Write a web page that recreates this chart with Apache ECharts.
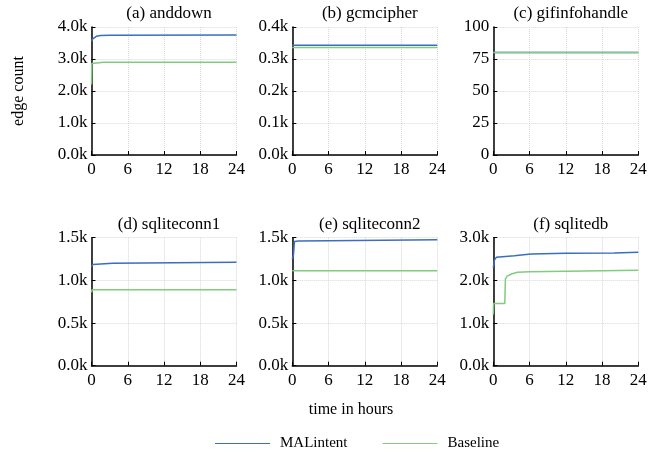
<!DOCTYPE html>
<html>
<head>
<meta charset="utf-8">
<script src="https://cdn.jsdelivr.net/npm/echarts@6/dist/echarts.min.js"></script>
<style>
  html, body { margin: 0; padding: 0; background: #fff; }
  #chart { width: 660px; height: 454px; }
</style>
</head>
<body>
<div id="chart"></div>
<script>
// panel titles
const titles = ['(a) anddown', '(b) gcmcipher', '(c) gifinfohandle', '(d) sqliteconn1', '(e) sqliteconn2', '(f) sqlitedb']
const hourTicks = [0, 6, 12, 18, 24]
const yMax = [4000, 400, 100, 1500, 1500, 3000]
const yStep = [1000, 100, 25, 500, 500, 1000]

// [hour, edges]
const anddownMal = [[0, 3550], [0.15, 3620], [0.4, 3670], [0.8, 3710], [1.5, 3735], [3, 3745], [24, 3750]]
const anddownBase = [[0, 2200], [0.05, 2860], [0.3, 2880], [2, 2895], [24, 2900]]
const gcmMal = [[0, 343], [24, 343]]
const gcmBase = [[0, 336], [24, 336]]
const gifMal = [[0, 80], [24, 80]]
const gifBase = [[0, 80], [24, 80]]
const conn1Mal = [[0, 1160], [0.2, 1185], [0.5, 1200], [3.5, 1200], [3.6, 1212], [24, 1212]]
const conn1Base = [[0, 860], [0.1, 890], [24, 891]]
const conn2Mal = [[0, 1250], [0.2, 1300], [0.35, 1455], [1, 1462], [6, 1465], [6.1, 1475], [24, 1475]]
const conn2Base = [[0, 1113], [24, 1113]]
const sqlMal = [[0, 2300], [0.2, 2480], [0.5, 2540], [1.5, 2555], [3.5, 2575], [5, 2600], [6.3, 2620], [12, 2635], [20, 2640], [24, 2660]]
const sqlBase = [[0, 1200], [0.05, 1455], [1.9, 1455], [2, 2030], [2.3, 2100], [3, 2150], [4, 2190], [6, 2200], [12, 2215], [24, 2235]]

const malSeries = [anddownMal, gcmMal, gifMal, conn1Mal, conn2Mal, sqlMal]
const baseSeries = [anddownBase, gcmBase, gifBase, conn1Base, conn2Base, sqlBase]

const blue = '#3d6dbf'
const green = '#82cc7e'
const font = 'Liberation Serif'
const lefts = [91.5, 292.3, 493.3]
const tops = [27, 237.7]
const gw = 145, gh = 128

let grids = [], xAxes = [], yAxes = [], series = [], titleList = []
for (let i = 0; i < 6; i++) {
  let l = lefts[i % 3], t = tops[Math.floor(i / 3)]
  grids.push({ left: l, top: t, width: gw, height: gh })
  titleList.push({
    text: titles[i], left: l + gw / 2, top: t - 27, textAlign: 'center',
    textStyle: { fontFamily: font, fontSize: 17, fontWeight: 'normal', color: '#000' }
  })
  xAxes.push({
    type: 'value', gridIndex: i, min: 0, max: 24, interval: 6,
    axisLine: { lineStyle: { color: '#000', width: 1.5 } },
    axisTick: { inside: true, length: 4, lineStyle: { color: '#000' } },
    axisLabel: { fontFamily: font, fontSize: 17, color: '#000', margin: 6 },
    splitLine: { show: true, lineStyle: { type: 'dotted', color: '#d8d8d8' } }
  })
  yAxes.push({
    type: 'value', gridIndex: i, min: 0, max: yMax[i], interval: yStep[i],
    axisLine: { show: true, lineStyle: { color: '#000', width: 1.5 } },
    axisTick: { show: true, inside: true, length: 4, lineStyle: { color: '#000' } },
    axisLabel: {
      fontFamily: font, fontSize: 17, color: '#000', margin: 4,
      formatter: i === 2 ? '{value}' : v => (v / 1000).toFixed(1) + 'k'
    },
    splitLine: { show: true, lineStyle: { type: 'dotted', color: '#d8d8d8' } }
  })
  series.push({
    name: 'MALintent', type: 'line', xAxisIndex: i, yAxisIndex: i, data: malSeries[i],
    symbol: 'none', lineStyle: { color: blue, width: 1.5 }, itemStyle: { color: blue }, z: 3
  })
  series.push({
    name: 'Baseline', type: 'line', xAxisIndex: i, yAxisIndex: i, data: baseSeries[i],
    symbol: 'none', lineStyle: { color: green, width: 1.5 }, itemStyle: { color: green }, z: 4
  })
}

let chart = echarts.init(document.getElementById('chart'))
chart.setOption({
  animation: false,
  title: titleList,
  grid: grids,
  xAxis: xAxes,
  yAxis: yAxes,
  series: series,
  legend: {
    data: ['MALintent', 'Baseline'],
    left: 210, top: 431,
    icon: 'rect', itemWidth: 55, itemHeight: 1.2, itemGap: 35,
    textStyle: { fontFamily: font, fontSize: 15, color: '#000', padding: [0, 0, 0, 5] }
  },
  graphic: [
    {
      type: 'text', x: 19, y: 91, rotation: Math.PI / 2,
      style: { text: 'edge count', font: '16px "Liberation Serif"', fill: '#000', textAlign: 'center', textVerticalAlign: 'middle' }
    },
    {
      type: 'text', x: 351, y: 410,
      style: { text: 'time in hours', font: '16px "Liberation Serif"', fill: '#000', textAlign: 'center', textVerticalAlign: 'middle' }
    }
  ]
})
</script>
</body>
</html>
